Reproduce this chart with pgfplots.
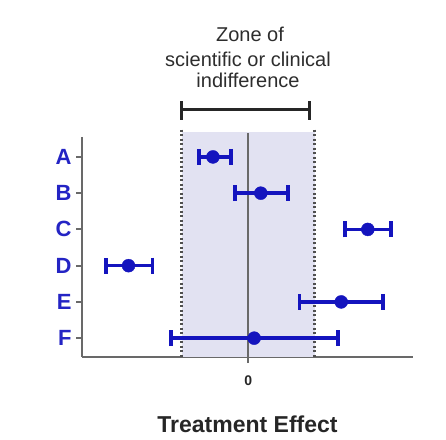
\documentclass[border=0pt]{standalone}
\usepackage{pgfplots}
\pgfplotsset{compat=1.18}
\usepackage{pgfplotstable}
\usepackage{fontspec}
\setmainfont{Liberation Sans}
\definecolor{ptblue}{RGB}{20,20,190}
\definecolor{lblblue}{RGB}{36,36,196}
\definecolor{zoneshade}{RGB}{226,226,242}
\definecolor{axgray}{RGB}{105,105,105}
\definecolor{dotgray}{RGB}{80,80,80}
\definecolor{txtgray}{RGB}{45,45,45}
\pgfplotstableread{
x y ep em
-0.53 1 0.27 0.21
0.19 2 0.41 0.39
1.80 3 0.35 0.34
-1.80 4 0.36 0.34
1.40 5 0.63 0.63
0.09 6 1.26 1.25
}\effects
\begin{document}
\begin{tikzpicture}
\useasboundingbox (0,0) rectangle (446pt,439pt);
% title
\node[anchor=base, font=\fontsize{20}{23}\selectfont, text=txtgray, inner sep=0] at (250pt,397pt) {Zone of};
\node[anchor=base, font=\fontsize{20}{23}\selectfont, text=txtgray, inner sep=0] at (248pt,372pt) {scientific or clinical};
\node[anchor=base, font=\fontsize{20}{23}\selectfont, text=txtgray, inner sep=0] at (248pt,351pt) {indifference};
% bracket
\draw[line width=3pt, black!85] (181pt,329pt) -- (309pt,329pt);
\draw[line width=3pt, black!85] (181pt,319pt) -- (181pt,338pt);
\draw[line width=3pt, black!85] (309pt,319pt) -- (309pt,338pt);
\begin{axis}[
  at={(82pt,82pt)}, anchor=south west,
  scale only axis, width=331pt, height=220pt,
  xmin=-2.5, xmax=2.48, ymin=0.45, ymax=6.52,
  y dir=reverse,
  clip=false,
  axis x line=bottom, axis y line=left,
  axis line style={-, axgray, line width=2.5pt},
  tick align=outside, major tick length=6pt,
  xtick={0}, xticklabels={0},
  ytick={1,2,3,4,5,6}, yticklabels={A,B,C,D,E,F},
  tick style={axgray, line width=2pt},
  xticklabel style={font=\fontsize{14}{14}\selectfont\bfseries, text=black!85, yshift=-9pt},
  yticklabel style={font=\fontsize{22}{22}\selectfont\bfseries, text=lblblue, xshift=-1pt},
  xlabel={Treatment Effect},
  every axis x label/.style={at={(axis description cs:0.5,0)}, anchor=base, yshift=-75pt, font=\fontsize{23}{23}\selectfont\bfseries, text=black!85},
]
\fill[zoneshade] (axis cs:-1,0.31) rectangle (axis cs:1,6.52);
\draw[dotgray, line width=2.5pt, dash pattern=on 2pt off 2.5pt] (axis cs:-1,0.25) -- (axis cs:-1,6.52);
\draw[dotgray, line width=2.5pt, dash pattern=on 2pt off 2.5pt] (axis cs:1,0.25) -- (axis cs:1,6.52);
\draw[axgray, line width=2.5pt] (axis cs:0,0.34) -- (axis cs:0,6.52);
\addplot[only marks, mark=*, mark size=6.5pt, color=ptblue,
  error bars/.cd, x dir=both, x explicit,
  error bar style={line width=3.5pt, color=ptblue},
  error mark options={rotate=90, mark size=8pt, line width=3.5pt, color=ptblue}]
  table[x=x, y=y, x error plus=ep, x error minus=em] {\effects};
\end{axis}
\end{tikzpicture}
\end{document}
